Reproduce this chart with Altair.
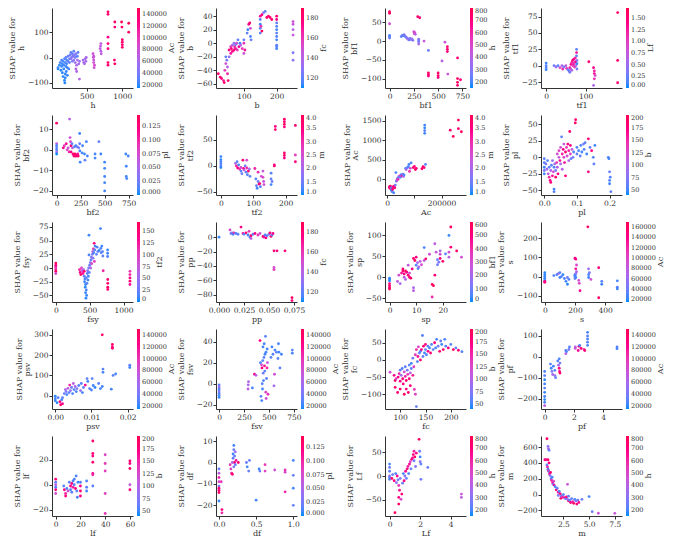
import altair as alt
import pandas as pd

FONT = "DejaVu Serif"
BLUE, RED = "#008bfb", "#ff0052"
INK = "#333333"

# Each list: (feature value, SHAP value, colour-feature value)
H_PTS = [(100,-45,20000),(100,-40,22000),(120,-30,20000),(130,-20,25000),(140,-50,18000),(150,-35,22000),(150,-10,24000),(160,-25,20000),(160,-60,19000),(170,-75,20000),(170,-15,26000),(180,-30,23000),(180,-45,21000),(190,-5,28000),(190,-90,19000),(195,-100,18000),(200,-20,25000),(200,-65,20000),(200,-80,19000),(210,-35,22000),(210,0,30000),(215,-55,21000),(220,-10,27000),(220,-25,24000),(230,-40,22000),(230,-70,20000),(240,5,32000),(240,-15,30000),(250,-45,25000),(260,-5,35000),(260,-20,33000),
         (270,10,38000),(280,-5,42000),(280,20,30000),(290,0,45000),(300,-15,40000),(300,15,35000),(310,5,48000),(320,25,30000),(320,-10,50000),(330,10,42000),(340,-20,55000),(340,0,38000),(350,15,45000),(350,-45,65000),(360,-55,62000),(370,5,30000),(370,-10,58000),(380,20,33000),(390,-25,60000),(400,-85,65000),(400,-15,55000),(360,-30,60000),
         (450,-10,55000),(460,-20,60000),(470,-25,62000),(480,-5,58000),(490,-15,60000),(495,0,62000),(590,15,80000),(595,0,85000),(600,-10,78000),(600,-20,82000),(600,5,75000),(605,-40,80000),(610,-30,85000),(690,35,70000),(695,45,75000),(700,55,72000),(700,25,68000),(705,15,70000),
         (800,180,140000),(800,170,135000),(800,80,125000),(800,55,130000),(800,35,128000),(800,-20,140000),(800,-30,135000),(895,140,138000),(895,120,130000),(890,-10,135000),(895,-25,140000),(990,140,145000),(995,120,140000),(1000,70,135000),(1000,60,138000),(1000,50,132000),(1000,40,140000),(1090,135,145000),(1090,100,140000)]

B_PTS = [(22,-45,180),(28,-50,185),(32,-52,175),(38,-55,170),(40,-58,185),(42,-40,160),(45,-30,150),(45,-20,120),(48,-25,125),(50,-35,140),(50,-45,165),(52,-55,180),(55,-20,130),(55,-10,175),(60,-15,170),(60,-5,160),(62,-8,180),(65,-12,175),(65,-3,140),(70,-10,180),(70,0,130),(72,-5,165),(75,-2,120),(75,-8,170),(78,0,150),(80,-10,160),(82,5,120),(85,-5,175),(88,0,115),(90,-3,140),(95,-8,160),(100,5,120),(100,-15,150),(100,0,160),(103,-10,170),(110,15,120),(112,20,115),(115,28,175),(118,30,180),(120,22,150),(120,10,118),(122,5,120),
         (150,40,170),(150,35,120),(150,28,115),(150,22,118),(150,15,120),(152,25,165),(155,18,185),(155,42,175),(160,45,130),(165,47,120),(170,38,185),(175,40,180),(180,38,180),(185,35,185),(200,40,180),(200,35,175),(200,30,120),(200,25,118),(200,20,115),(200,15,120),(200,10,118),(200,5,115),(200,-3,118),(200,-5,120),(200,-8,115),(250,32,150),(250,28,145),(250,20,140),(250,12,145),(250,-14,125),(250,-25,130)]

BF1_PTS = [(0,78,780),(0,74,760),(0,46,480),(0,15,220),(0,12,200),(0,8,250),(120,12,230),(130,15,250),(140,14,200),(150,17,260),(160,13,300),(170,10,240),(180,8,280),(190,5,350),(200,3,260),(210,7,300),(220,4,280),(230,6,320),(240,2,300),(250,25,480),(255,20,460),(260,22,500),(265,18,420),(290,65,740),(310,62,720),(300,5,300),(300,-2,380),(300,-8,350),(300,0,250),(355,0,450),(400,-25,250),(400,-85,760),(400,-90,740),(400,-93,700),(500,-85,750),(500,-92,760),(500,-97,700),(540,-53,400),(570,-3,450),(595,-15,720),(595,-22,740),(595,-28,700),(600,-88,450),(700,-45,720),(700,-100,760),(700,-110,780),(700,-118,740),(730,-103,700)]

TF1_PTS = [(0,4,0.1),(0,0,0.15),(0,-3,0.2),(0,-6,0.1),(20,0,0.3),(25,-2,0.5),(30,0,0.2),(35,-3,0.9),(40,0,0.6),(42,-5,1.2),(45,-2,0.3),(50,0,0.7),(52,-4,1.1),(55,-6,0.3),(58,-8,0.2),(60,-10,0.3),(60,-3,1.3),(62,-5,0.8),(63,2,1.4),(65,5,1.2),(65,-7,0.6),(67,8,1.5),(68,0,1.0),(70,3,1.3),(70,10,1.4),(72,5,0.9),(72,-2,1.1),(74,12,1.2),(75,6,1.5),(75,0,0.7),(77,15,0.2),(77,20,1.3),(77,25,0.2),(78,8,0.4),(78,3,0.1),(78,-5,0.3),(108,6,1.5),(120,-3,1.4),(122,-8,1.2),(122,-12,1.3),(124,-15,0.9),(122,-20,1.1),(120,-30,0.6),(181,81,1.6),(181,8,1.55),(181,-26,1.5)]

BF2_PTS = [(0,13,0.13),(0,3,0.06),(0,2,0.01),(0,1,0.02),(0,0,0.01),(0,-1,0.04),(0,-2,0.0),(70,1,0.12),(80,2,0.09),(100,3,0.11),(110,0,0.08),(120,1,0.07),(130,-1,0.1),(135,15,0.06),(140,6,0.07),(145,4,0.08),(150,2,0.13),(150,-1,0.12),(160,3,0.02),(165,1,0.06),(170,-2,0.13),(180,-3,0.12),(185,1.5,0.02),(190,-2,0.14),(195,-3,0.13),(200,2,0.01),(205,-2.5,0.12),(210,-3,0.13),(215,1.5,0.02),(220,-2,0.11),(225,-3,0.13),(230,1,0.03),(240,8,0.01),(240,3,0.02),(242,-0.5,0.01),(245,-6,0.01),(265,-1.5,0.01),(270,2,0.01),(290,-2,0.01),(295,-5,0.02),(310,4,0.01),(320,-3,0.01),(400,-2,0.01),(400,-4,0.01),(440,4,0.02),(460,-2,0.01),(500,-6,0.01),(500,-9,0.01),(500,-13,0.01),(500,-16,0.01),(500,-20,0.01),(720,-2,0.01),(725,-8,0.01),(725,-13,0.01),(730,-14,0.01),(745,-3,0.01)]

TF2_PTS = [(0,18,1.2),(0,12,1.1),(0,8,1.3),(0,4,1.2),(0,0,1.5),(0,-3,1.1),(45,5,2.0),(48,0,3.2),(50,8,1.4),(52,-4,3.5),(55,2,1.2),(58,-6,3.0),(62,-3,2.5),(62,-10,1.3),(65,-15,1.5),(68,11,3.6),(70,-5,3.4),(72,-8,2.2),(75,0,1.5),(78,-12,1.4),(80,-4,3.0),(80,11,2.5),(82,-17,1.3),(85,-10,3.8),(88,-6,2.0),(90,-20,1.4),(105,-5,3.1),(108,-25,1.3),(110,-38,1.4),(112,-43,1.2),(115,-30,1.5),(115,-12,3.0),(118,-35,3.8),(120,-34,3.6),(122,-40,1.3),(125,-20,2.5),(130,-10,2.3),(130,-22,2.6),(132,-30,2.4),(133,-36,2.5),(155,-14,1.3),(155,-25,1.4),(155,-36,1.2),(158,-30,1.5),(165,0,3.7),(165,2,3.4),(168,70,3.7),(168,76,3.5),(196,90,3.8),(196,85,3.6),(196,80,3.9),(196,75,3.5),(196,25,3.6),(196,20,3.8),(196,15,3.4),(230,78,3.7),(230,21,2.8),(230,8,3.5)]

AC_PTS = [(8000,-200,3.8),(10000,-230,3.5),(12000,-180,3.9),(14000,-250,3.6),(15000,-220,1.3),(16000,-280,1.2),(18000,-300,1.1),(18000,-320,1.4),(20000,-260,3.7),(22000,-200,3.4),(24000,-350,1.2),(25000,-180,3.8),(28000,-220,3.5),(30000,-150,1.6),(32000,170,1.3),(34000,-50,1.5),(36000,-20,2.5),(38000,20,1.3),(40000,0,3.0),(42000,60,1.4),(45000,80,2.2),(48000,50,1.3),(50000,100,2.8),(52000,120,1.2),(55000,90,3.2),(58000,130,1.5),(60000,70,2.0),(62000,110,1.3),(68000,280,1.2),(70000,250,2.0),(74000,300,1.4),(78000,320,1.3),(80000,380,1.2),(82000,200,3.0),(85000,280,2.5),(88000,420,1.3),(96000,300,3.8),(100000,330,3.5),(104000,250,3.9),(107000,280,3.6),(128000,270,3.7),(132000,320,3.8),(136000,300,3.5),(138000,1180,1.2),(138000,1250,1.3),(138000,1320,1.1),(138000,1390,1.2),(141000,380,1.3),(232000,1260,3.7),(243000,1100,3.9),(262000,1520,3.8),(262000,1300,3.6),(273000,1220,3.9)]

PL_PTS = [(0,-2,60),(0,-8,55),(0,-15,50),(0,-20,65),(0,-25,50),(0.005,-10,70),(0.008,-18,90),(0.01,-5,55),(0.012,-25,110),(0.015,-30,150),(0.015,-15,60),(0.018,-35,170),(0.02,-20,100),(0.02,-38,180),(0.022,-12,60),(0.025,-28,160),(0.025,-5,80),(0.028,-22,120),(0.03,-15,55),(0.03,-48,50),(0.03,-52,55),(0.032,-10,90),(0.035,-30,185),(0.035,-20,70),(0.038,-8,140),(0.04,-15,100),(0.04,5,120),(0.042,-25,170),(0.045,0,110),(0.045,10,130),(0.048,-5,160),(0.05,15,120),(0.05,-10,90),(0.053,31,60),(0.055,5,150),(0.055,-18,100),(0.058,12,170),(0.06,0,130),(0.06,20,110),(0.062,-8,160),(0.065,8,180),(0.065,-28,175),(0.068,15,140),(0.07,2,120),(0.072,20,175),(0.075,-5,100),(0.075,10,155),(0.078,39,180),(0.08,5,130),(0.08,18,170),(0.082,-2,60),(0.085,12,110),(0.088,0,70),(0.09,8,55),(0.095,52,190),(0.096,57,185),(0.1,5,60),(0.1,15,55),(0.105,10,50),(0.11,2,60),(0.112,18,55),(0.115,8,50),(0.12,20,65),(0.122,12,55),(0.125,22,60),(0.13,5,50),(0.135,28,180),(0.135,-22,170),(0.14,15,60),(0.145,10,175),(0.15,0,55),(0.152,-10,60),(0.155,18,50),(0.196,0,55),(0.198,-2,50),(0.2,-22,60),(0.2,-35,55),(0.2,-40,50),(0.202,-30,55),(0.204,-52,60)]

FSY_PTS = [(0,9,160),(0,5,140),(0,2,150),(0,0,100),(0,-3,120),(0,-6,165),(0,-10,90),(350,-3,120),(360,-8,140),(370,-12,160),(380,0,100),(390,-5,80),(400,-10,130),(410,-3,60),(420,-6,150),(420,-15,20),(425,-25,10),(430,-20,15),(435,-35,5),(440,-30,10),(440,-45,8),(445,-55,5),(450,-40,12),(450,-18,20),(455,-50,8),(460,-28,15),(465,-10,20),(470,-5,40),(475,-22,10),(480,-15,10),(485,0,30),(490,60,10),(490,24,15),(495,-8,20),(500,5,25),(510,10,30),(515,0,60),(520,15,20),(525,20,40),(530,8,90),(540,25,30),(545,30,70),(550,18,40),(555,35,110),(560,28,15),(567,45,140),(570,12,100),(575,33,20),(580,40,10),(600,25,20),(610,38,15),(620,30,20),(640,32,10),(660,72,10),(665,36,15),(670,28,20),(680,40,10),(690,30,15),(695,22,20),(700,-5,120),(765,33,10),(765,27,12),(765,21,15),(767,-21,150),(767,-28,155),(767,-35,160),(767,-39,150),(1095,-6,110),(1095,-12,120),(1095,-18,140),(1095,-24,150),(1095,-30,130)]

PP_PTS = [(0,0,115),(0.011,10,150),(0.012,5,120),(0.013,6,130),(0.014,4,115),(0.015,6,160),(0.017,5,118),(0.019,4,120),(0.022,14,175),(0.024,5,170),(0.025,4,120),(0.027,6,180),(0.029,3,115),(0.03,8,160),(0.031,0,120),(0.032,-2,140),(0.032,2,185),(0.034,4,120),(0.036,5,175),(0.039,3,160),(0.041,5,150),(0.044,1,185),(0.045,0,170),(0.046,3,118),(0.047,-1,175),(0.048,2,120),(0.05,4,130),(0.051,6,180),(0.052,1,185),(0.053,3,120),(0.054,5,175),(0.055,-19,180),(0.055,-42,150),(0.055,-45,160),(0.058,-19,175),(0.066,-19,180),(0.073,-84,185),(0.073,-88,180)]

SP_PTS = [(0,-2,20),(0,-8,10),(0,-15,500),(0,-20,550),(0,-25,520),(0,-28,580),(0,-5,30),(3,-10,250),(3.5,5,300),(4,-15,200),(4.5,10,450),(5,15,550),(5,20,520),(5.5,0,250),(5.5,8,500),(6,15,580),(6,-5,220),(6.5,12,480),(7,5,550),(7,29,250),(7.5,0,500),(7.5,10,300),(8,-2,560),(8.5,20,480),(9,-25,200),(9,-32,250),(9,45,520),(9.5,40,560),(10,48,500),(10,29,60),(10.5,35,200),(10.7,21,50),(11,25,220),(11.5,38,260),(12,30,300),(13,71,50),(13,40,250),(13.6,44,550),(15,55,300),(16,-17,550),(16,-47,400),(16.5,-20,580),(17,5,520),(17,80,250),(17.5,60,260),(18,30,100),(18,42,80),(18.5,36,120),(19,55,300),(19,45,520),(19,63,200),(20,38,550),(21,56,60),(22.3,100,30),(22.3,60,300),(22.3,48,250),(23,120,560),(23,72,520),(25.2,63,550),(27,48,300)]

S_PTS = [(0,20,20000),(0,10,22000),(0,0,25000),(0,-10,20000),(0,-20,30000),(0,-30,150000),(0,-25,140000),(60,5,30000),(80,10,25000),(90,15,60000),(100,20,30000),(100,-5,25000),(110,0,28000),(120,10,22000),(130,-10,30000),(140,-25,25000),(150,-40,20000),(150,-5,40000),(160,-15,30000),(200,5,25000),(200,0,30000),(200,-10,35000),(200,10,22000),(205,-5,28000),(205,15,50000),(200,95,150000),(205,90,140000),(205,40,130000),(210,60,100000),(210,25,70000),(225,-20,90000),(228,-35,100000),(233,-73,140000),(285,258,160000),(290,40,60000),(290,10,30000),(290,-5,25000),(295,20,40000),(305,-15,90000),(357,46,150000),(357,-110,160000),(377,-25,30000),(377,-40,25000),(480,-22,25000),(480,-55,30000),(480,-64,25000)]

PSV_PTS = [(0,-3,20000),(0,-15,25000),(0,-25,22000),(0.0005,-35,20000),(0.0008,-10,30000),(0.0013,-30,130000),(0.0015,-45,140000),(0.0018,-20,25000),(0.002,-40,120000),(0.002,-10,30000),(0.0025,10,35000),(0.0028,30,60000),(0.003,20,40000),(0.0032,5,25000),(0.0035,36,70000),(0.0038,15,30000),(0.004,52,110000),(0.0042,25,50000),(0.0045,40,35000),(0.0048,10,25000),(0.005,60,70000),(0.0052,30,30000),(0.0055,45,60000),(0.0058,20,25000),(0.006,35,40000),(0.0065,50,30000),(0.007,25,50000),(0.0072,60,30000),(0.0075,15,25000),(0.0078,40,35000),(0.0083,52,120000),(0.0088,84,30000),(0.009,70,25000),(0.0095,35,30000),(0.01,28,25000),(0.0102,84,30000),(0.0105,50,25000),(0.011,40,20000),(0.012,60,30000),(0.0125,35,25000),(0.013,300,140000),(0.013,45,25000),(0.0132,131,30000),(0.0132,115,25000),(0.0155,32,25000),(0.0158,253,140000),(0.0158,240,130000),(0.0158,234,135000),(0.016,100,30000),(0.0167,107,25000),(0.0206,150,30000),(0.0206,139,25000)]

FSV_PTS = [(0,-1,30000),(0,-3,60000),(0,-5,25000),(0,-7,40000),(0,-9,30000),(0,-11,25000),(0,-13,20000),(290,-5,70000),(292,-1,60000),(295,2,65000),(334,-4,25000),(355,9,120000),(370,8,70000),(410,41,130000),(415,20,25000),(420,-12,30000),(425,18,80000),(428,-16,25000),(430,15,130000),(432,0,30000),(435,-5,25000),(438,22,30000),(440,35,25000),(442,10,35000),(445,3,25000),(450,25,30000),(452,38,25000),(455,17,120000),(458,12,30000),(460,28,25000),(465,45,30000),(468,-8,90000),(470,30,25000),(472,-14,80000),(475,5,30000),(480,15,110000),(482,33,25000),(485,20,70000),(490,-10,100000),(520,25,30000),(530,35,25000),(540,28,30000),(550,-2,60000),(555,9,80000),(560,32,25000),(575,30,30000),(590,24,30000),(595,38,25000),(600,30,25000),(610,15,30000),(625,28,25000),(734,32,30000),(734,29,25000)]

FC_PTS = [(80,-36,120),(88,-45,170),(90,-60,190),(90,-80,185),(92,-55,130),(95,-95,180),(96,-50,175),(98,-40,150),(100,-30,60),(100,-62,170),(100,-85,185),(102,-45,90),(104,-25,55),(105,-55,180),(106,-70,175),(108,-35,120),(108,-100,190),(110,-20,60),(110,-48,150),(112,-60,180),(112,-85,170),(114,-30,70),(115,-42,140),(116,-95,185),(118,-15,55),(118,-55,175),(120,-38,100),(120,-75,180),(122,-25,60),(122,-10,50),(125,-45,160),(125,5,70),(127,-20,130),(128,-86,140),(130,-100,130),(130,15,140),(132,-136,60),(132,30,150),(134,-5,55),(135,10,160),(136,38,130),(138,20,60),(140,0,180),(140,25,55),(142,30,170),(144,71,55),(145,10,60),(146,40,180),(148,20,50),(150,30,60),(150,45,175),(152,15,55),(155,25,170),(155,40,60),(158,35,50),(160,20,180),(162,45,55),(165,30,60),(168,50,175),(170,35,50),(172,60,55),(175,40,65),(178,25,180),(180,55,60),(182,45,50),(185,30,185),(188,60,55),(190,40,60),(195,35,175),(200,45,55),(205,30,190),(210,35,60),(215,28,180),(222,24,55)]

PF_PTS = [(0,-70,25000),(0,-90,30000),(0,-110,20000),(0,-130,25000),(0,-150,30000),(0,-170,22000),(0,-190,25000),(0,-205,20000),(0,-218,25000),(0,-234,70000),(0.4,-35,30000),(0.45,-55,25000),(0.5,-70,40000),(0.55,-85,60000),(0.6,-45,25000),(0.7,-65,30000),(0.7,-90,50000),(0.75,-100,35000),(0.9,-20,30000),(0.95,-40,60000),(1.0,-10,25000),(1.0,-55,130000),(1.02,-70,120000),(1.05,-78,140000),(1.05,-30,40000),(1.45,15,70000),(1.45,30,30000),(1.5,25,25000),(1.66,35,40000),(1.7,47,30000),(2.1,47,70000),(2.1,40,80000),(2.3,30,120000),(2.35,50,130000),(2.4,55,25000),(2.5,40,140000),(2.7,35,100000),(2.75,30,130000),(2.94,117,25000),(2.94,100,30000),(2.94,85,25000),(2.94,70,30000),(2.94,55,25000),(4.96,47,30000),(4.96,39,25000)]

LF_PTS = [(0,4.5,180),(0,2,60),(0,0,100),(0,-2,55),(0,-4,170),(0,-7,120),(6.5,-1,60),(7,-4,180),(8,-7,150),(8,-9,175),(9,-3,55),(10,-5,120),(11,2,60),(12,-1,175),(12,-4,55),(13,1,170),(13,-6,60),(14,3,55),(14,-2,150),(15,0,60),(15,4.5,55),(16,-3,180),(16.5,7,55),(17,-5,60),(17.5,-10,55),(18,2,50),(20,-9,175),(20,-5,180),(20,-1,170),(20,2,55),(25,3,55),(25,-2,60),(25,-5,50),(30,35,185),(30,25,180),(30,23,175),(30,18,180),(30,9,170),(30,8,150),(30,-1,60),(40,24,130),(40,17,140),(40,11,135),(40,-7,130),(40,-23,140),(60,19,180),(60,17,175),(60,13,185),(60,0,110),(60,-4,175)]

DF_PTS = [(0,-3,0.02),(0,-5,0.06),(0,-7,0.1),(0,-9,0.08),(0,-11,0.03),(0,-12,0.13),(0,-13,0.12),(0,-14,0.14),(0,-18,0.01),(0.03,-9,0.09),(0.04,-22,0.12),(0.04,-23.5,0.1),(0.15,-1,0.09),(0.16,-3,0.08),(0.17,-5,0.1),(0.18,-5.5,0.13),(0.18,0,0.05),(0.19,2,0.02),(0.19,4,0.01),(0.2,6,0.02),(0.2,8,0.01),(0.2,-2,0.03),(0.21,3,0.02),(0.21,0,0.12),(0.22,5,0.04),(0.22,-1,0.02),(0.23,1,0.11),(0.26,0,0.13),(0.37,0,0.02),(0.38,-2,0.01),(0.4,-4,0.02),(0.41,1,0.02),(0.54,-3,0.01),(0.55,-4,0.02),(0.5,-17.6,0.01),(0.62,-1,0.09),(0.62,-4,0.08),(0.75,-3.5,0.07),(0.89,-3.5,0.09),(0.89,-4.5,0.08),(0.89,-13.7,0.1),(1.0,1,0.01),(1.0,-6,0.02),(1.0,-12,0.01),(1.0,-20,0.02)]

LFF_PTS = [(0,25,200),(0,18,250),(0,10,220),(0,0,300),(0,-3,250),(0,-7,200),(0.15,-5,750),(0.2,3,250),(0.3,-10,700),(0.35,-77,760),(0.4,5,200),(0.45,-14,300),(0.5,0,650),(0.55,-8,250),(0.6,-20,550),(0.6,-45,700),(0.6,-59,760),(0.65,-30,650),(0.7,-5,300),(0.75,-49,500),(0.8,-38,700),(0.85,-15,250),(0.9,5,200),(0.95,-10,700),(1.0,0,300),(1.05,10,650),(1.1,-5,250),(1.15,15,720),(1.2,20,600),(1.25,5,200),(1.3,25,680),(1.35,30,500),(1.4,15,250),(1.45,35,720),(1.5,38,650),(1.55,45,700),(1.6,52,600),(1.6,32,250),(1.65,40,750),(1.7,20,300),(1.75,48,650),(1.93,77,760),(1.97,52,250),(2.0,40,200),(2.0,30,300),(2.05,25,220),(2.05,-7,250),(2.5,18,250),(4.7,-38,450),(4.7,-45,420)]

M_PTS = [(0.9,705,750),(1.0,610,300),(1.05,580,400),(1.1,560,250),(0.7,440,700),(0.8,440,650),(1.0,440,750),(1.1,400,700),(0.9,375,250),(0.95,350,600),(1.0,320,200),(1.05,300,700),(1.1,290,250),(1.15,260,650),(1.2,240,300),(1.25,280,720),(1.3,200,250),(1.35,180,600),(1.4,220,200),(1.45,150,700),(1.5,130,250),(1.55,170,500),(1.6,120,650),(1.7,100,200),(1.8,60,700),(1.9,80,250),(2.0,30,650),(2.0,-10,300),(2.1,40,200),(2.2,10,700),(2.25,-47,750),(2.3,-20,250),(2.4,-30,600),(2.5,0,200),(2.6,-40,650),(2.7,-50,250),(2.8,-30,700),(2.9,130,450),(2.9,-60,300),(3.0,-80,650),(3.0,-20,250),(3.1,-70,200),(3.2,-100,700),(3.3,-50,250),(3.4,-90,600),(3.5,-110,750),(3.6,-60,200),(3.7,-80,300),(3.8,-120,700),(3.9,-70,250),(4.0,-100,650),(4.3,-60,250),(5.0,-25,200),(5.3,-215,250),(5.9,-235,450),(7.5,-236,450)]

AC_TICKS = [20000, 40000, 60000, 80000, 100000, 120000, 140000]
H_TICKS = [200, 300, 400, 500, 600, 700, 800]
B_TICKS = [50, 75, 100, 125, 150, 175, 200]
FC_TICKS = [120, 140, 160, 180]
M_TICKS = [1.0, 1.5, 2.0, 2.5, 3.0, 3.5, 4.0]
PL_TICKS = [0.0, 0.025, 0.05, 0.075, 0.1, 0.125]

PANELS = [
    dict(f="h", cf="Ac", pts=H_PTS, xd=[15, 1150], xt=[500, 1000], xf="d", yd=[-120, 195], yt=[-100, 0, 100], cd=[15000, 150000], ct=AC_TICKS, cfm="d"),
    dict(f="b", cf="fc", pts=B_PTS, xd=[15, 262], xt=[100, 200], xf="d", yd=[-66, 52], yt=[-60, -40, -20, 0, 20, 40], cd=[110, 190], ct=FC_TICKS, cfm="d"),
    dict(f="bf1", cf="h", pts=BF1_PTS, xd=[-47, 787], xt=[0, 250, 500, 750], xf="d", yd=[-125, 88], yt=[-100, -50, 0, 50], cd=[150, 800], ct=H_TICKS, cfm="d"),
    dict(f="tf1", cf="Lf", pts=TF1_PTS, xd=[-13, 192], xt=[0, 100], xf="d", yd=[-34, 88], yt=[-25, 0, 25, 50, 75], cd=[0, 1.72], ct=[0, 0.25, 0.5, 0.75, 1.0, 1.25, 1.5], cfm=".2f"),
    dict(f="bf2", cf="pl", pts=BF2_PTS, xd=[-48, 795], xt=[0, 250, 500, 750], xf="d", yd=[-22, 17], yt=[-20, -10, 0, 10], cd=[0, 0.145], ct=PL_TICKS, cfm=".3f"),
    dict(f="tf2", cf="m", pts=TF2_PTS, xd=[-15, 235], xt=[0, 100, 200], xf="d", yd=[-56, 98], yt=[-50, 0, 50], cd=[1, 4], ct=M_TICKS, cfm=".1f"),
    dict(f="Ac", cf="m", pts=AC_PTS, xd=[-8000, 290000], xt=[0, 100000, 200000], xf="d", yd=[-405, 1650], yt=[0, 500, 1000, 1500], cd=[1, 4], ct=M_TICKS, cfm=".1f"),
    dict(f="pl", cf="b", pts=PL_PTS, xd=[-0.01, 0.238], xt=[0, 0.1, 0.2], xf=".1f", yd=[-57, 64], yt=[-50, -25, 0, 25, 50], cd=[40, 200], ct=B_TICKS, cfm="d"),
    dict(f="fsy", cf="tf2", pts=FSY_PTS, xd=[-56, 1140], xt=[0, 500, 1000], xf="d", yd=[-62, 84], yt=[-50, -25, 0, 25, 50, 75], cd=[0, 170], ct=[0, 25, 50, 75, 100, 125, 150], cfm="d"),
    dict(f="pp", cf="fc", pts=PP_PTS, xd=[-0.003, 0.078], xt=[0, 0.025, 0.05, 0.075], xf=".3f", yd=[-90, 21], yt=[-80, -60, -40, -20, 0], cd=[110, 190], ct=FC_TICKS, cfm="d"),
    dict(f="sp", cf="bf1", pts=SP_PTS, xd=[-1.7, 28.7], xt=[0, 10, 20], xf="d", yd=[-59, 132], yt=[-50, 0, 50, 100], cd=[0, 600], ct=[0, 100, 200, 300, 400, 500, 600], cfm="d"),
    dict(f="s", cf="Ac", pts=S_PTS, xd=[-25, 511], xt=[0, 200, 400], xf="d", yd=[-132, 283], yt=[-100, 0, 100, 200], cd=[15000, 170000], ct=AC_TICKS + [160000], cfm="d"),
    dict(f="psv", cf="Ac", pts=PSV_PTS, xd=[-0.0009, 0.0215], xt=[0, 0.01, 0.02], xf=".2f", yd=[-66, 329], yt=[0, 100, 200, 300], cd=[15000, 150000], ct=AC_TICKS, cfm="d"),
    dict(f="fsv", cf="Ac", pts=FSV_PTS, xd=[-31, 781], xt=[0, 250, 500, 750], xf="d", yd=[-24, 52], yt=[-20, 0, 20, 40], cd=[15000, 150000], ct=AC_TICKS, cfm="d"),
    dict(f="fc", cf="b", pts=FC_PTS, xd=[70, 230], xt=[100, 150, 200], xf="d", yd=[-143, 90], yt=[-100, -50, 0, 50], cd=[40, 200], ct=B_TICKS, cfm="d"),
    dict(f="pf", cf="Ac", pts=PF_PTS, xd=[-0.25, 5.3], xt=[0, 2, 4], xf="d", yd=[-250, 133], yt=[-200, -100, 0, 100], cd=[15000, 150000], ct=AC_TICKS, cfm="d"),
    dict(f="lf", cf="b", pts=LF_PTS, xd=[-3, 62.5], xt=[0, 20, 40, 60], xf="d", yd=[-25, 39], yt=[-20, 0, 20], cd=[40, 200], ct=B_TICKS, cfm="d"),
    dict(f="df", cf="pl", pts=DF_PTS, xd=[-0.04, 1.05], xt=[0, 0.5, 1.0], xf=".1f", yd=[-25, 12.4], yt=[-20, -10, 0, 10], cd=[0, 0.145], ct=PL_TICKS, cfm=".3f"),
    dict(f="Lf", cf="h", pts=LFF_PTS, xd=[-0.3, 5.0], xt=[0, 2, 4], xf="d", yd=[-84, 84], yt=[-50, 0, 50], cd=[150, 800], ct=H_TICKS, cfm="d"),
    dict(f="m", cf="h", pts=M_PTS, xd=[0.32, 8.2], xt=[2.5, 5.0, 7.5], xf=".1f", yd=[-270, 740], yt=[-200, 0, 200, 400, 600], cd=[150, 800], ct=H_TICKS, cfm="d"),
]

PW, PH = 81, 80
LEG_OFFSET, GRAD_W, LAB_OFF, LAB_FS = 4, 3, 1.5, 6.5


def label_width(p):
    # rough width of the longest colour-bar label (DejaVu Serif proportions)
    texts = [format(v, p["cfm"]) for v in p["ct"]]
    return max(sum(0.32 * LAB_FS if ch == "." else 0.636 * LAB_FS for ch in t) for t in texts)


def panel(p):
    df = pd.DataFrame(p["pts"], columns=["x", "y", "c"])
    pts = alt.Chart(df).mark_circle(size=8, opacity=1).encode(
        x=alt.X("x:Q",
                scale=alt.Scale(domain=p["xd"], nice=False, zero=False),
                axis=alt.Axis(values=p["xt"], format=p["xf"], title=p["f"])),
        y=alt.Y("y:Q",
                scale=alt.Scale(domain=p["yd"], nice=False, zero=False),
                axis=alt.Axis(values=p["yt"], format="d", title=["SHAP value for", p["f"]])),
        color=alt.Color("c:Q",
                        scale=alt.Scale(domain=p["cd"], range=[BLUE, RED], interpolate="hcl", nice=False, zero=False),
                        legend=alt.Legend(title=None, values=p["ct"], format=p["cfm"])),
    )
    tx = PW + LEG_OFFSET + GRAD_W + LAB_OFF + label_width(p) + 6
    ctitle = alt.Chart(pd.DataFrame({"t": [p["cf"]]})).mark_text(
        angle=270, font=FONT, fontSize=8, color=INK, align="center", baseline="middle"
    ).encode(text="t:N", x=alt.value(tx), y=alt.value(PH / 2))
    return alt.layer(pts, ctitle).properties(width=PW, height=PH)


chart = alt.concat(*[panel(p) for p in PANELS], columns=4, spacing={"row": 5, "column": 0}).resolve_scale(
    x="independent", y="independent", color="independent"
).properties(
    padding={"left": 0, "top": 0, "right": 0, "bottom": 0}
).configure_view(stroke=None).configure_axis(
    grid=False, labelFont=FONT, labelFontSize=7.5, labelColor=INK,
    titleFont=FONT, titleFontSize=8, titleFontWeight="normal", titleColor=INK, titleLineHeight=8.5,
    tickSize=3, tickColor=INK, domainColor=INK, labelPadding=1, titlePadding=2,
).configure_legend(
    gradientLength=PH, gradientThickness=GRAD_W, offset=LEG_OFFSET, padding=0,
    labelFont=FONT, labelFontSize=LAB_FS, labelColor=INK, labelOffset=LAB_OFF, labelOverlap=False,
    gradientStrokeWidth=0,
)

chart.save("out.html", embed_options={"renderer": "svg", "actions": False})
